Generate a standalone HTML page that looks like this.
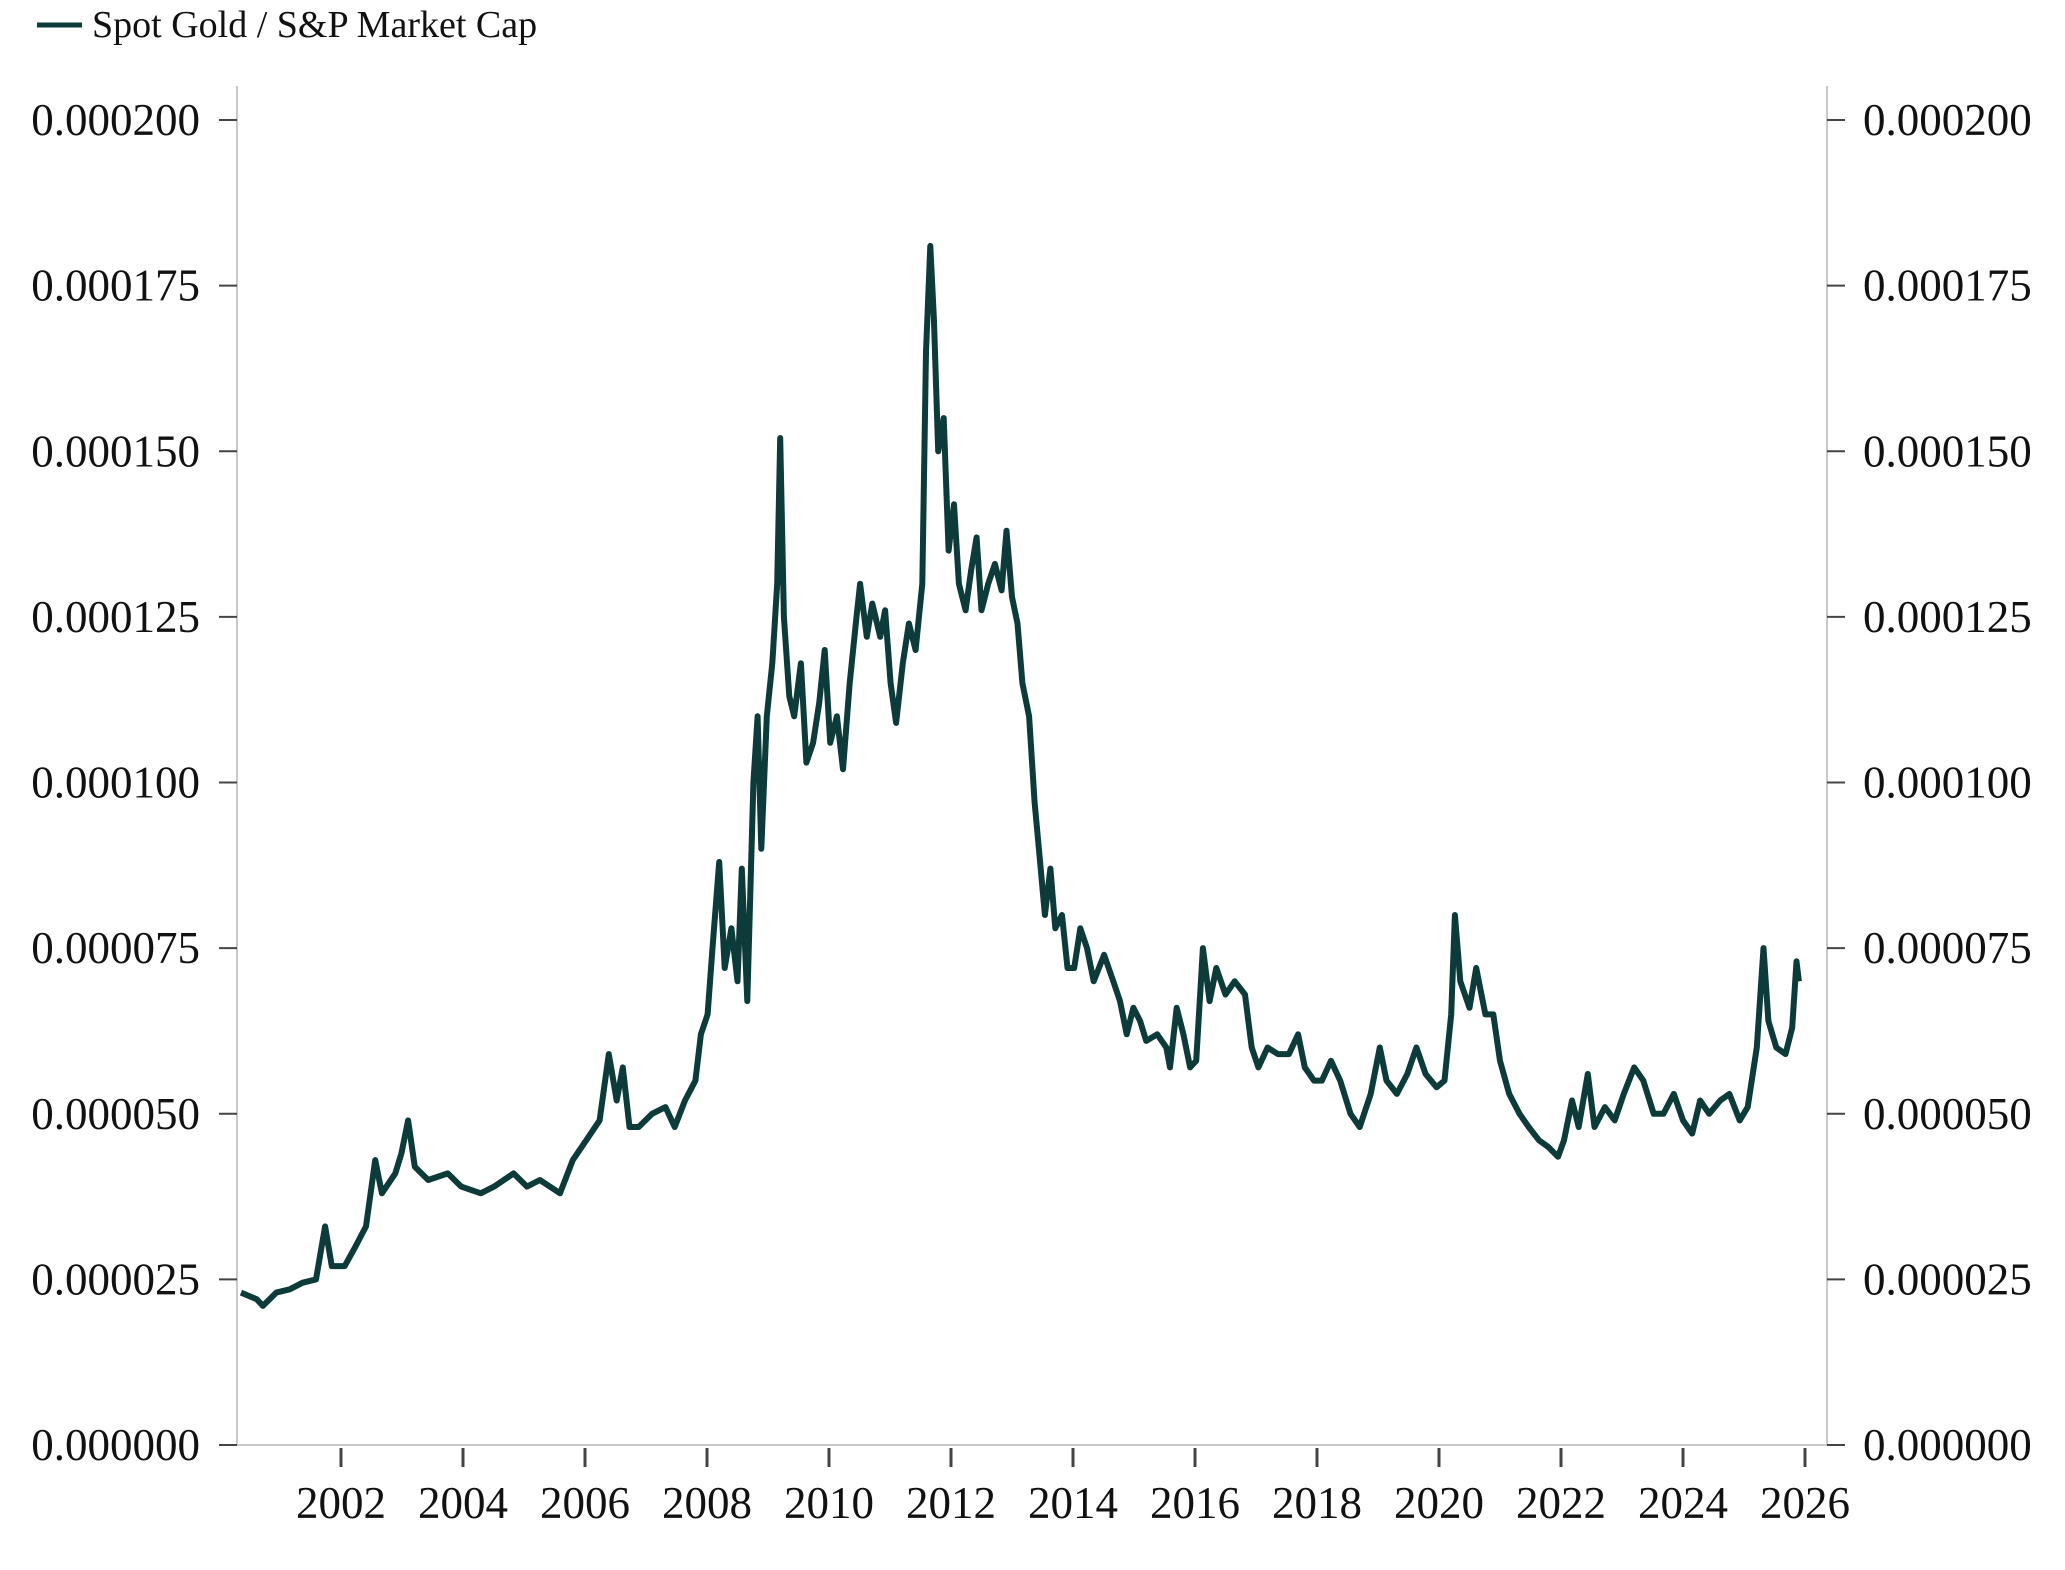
<!DOCTYPE html>
<html><head><meta charset="utf-8"><style>
html,body{margin:0;padding:0;background:#fff}
svg text{font-family:"Liberation Serif",serif;fill:#111}
</style></head><body>
<svg id="chart" width="2065" height="1565" viewBox="0 0 2065 1565" xmlns="http://www.w3.org/2000/svg">
<g>
<line x1="37" y1="25" x2="82" y2="25" stroke="#0d3b3a" stroke-width="5"/>
<text x="92" y="37" font-size="38">Spot Gold / S&amp;P Market Cap</text>
</g>
<g id="axes"></g>
<path id="series" fill="none" stroke="#0d3b3a" stroke-width="6" stroke-linejoin="round"/>
</svg>
<script>
const years=[2000.36,2000.62,2000.72,2000.94,2001.16,2001.37,2001.59,2001.74,2001.85,2002.06,2002.24,2002.41,2002.56,2002.67,2002.89,2002.99,2003.10,2003.21,2003.43,2003.75,2003.97,2004.29,2004.51,2004.83,2005.05,2005.26,2005.59,2005.80,2006.02,2006.24,2006.39,2006.52,2006.62,2006.73,2006.88,2007.10,2007.32,2007.47,2007.64,2007.81,2007.90,2008.01,2008.09,2008.20,2008.29,2008.40,2008.50,2008.57,2008.66,2008.76,2008.83,2008.89,2008.98,2009.07,2009.15,2009.20,2009.26,2009.35,2009.43,2009.54,2009.63,2009.74,2009.84,2009.93,2010.02,2010.13,2010.23,2010.34,2010.45,2010.51,2010.62,2010.71,2010.84,2010.92,2011.01,2011.10,2011.21,2011.31,2011.42,2011.53,2011.59,2011.66,2011.72,2011.79,2011.88,2011.96,2012.05,2012.13,2012.24,2012.33,2012.42,2012.50,2012.61,2012.72,2012.83,2012.91,2013.00,2013.09,2013.17,2013.28,2013.37,2013.45,2013.54,2013.63,2013.71,2013.82,2013.91,2014.02,2014.12,2014.23,2014.34,2014.51,2014.66,2014.77,2014.88,2014.99,2015.10,2015.20,2015.38,2015.53,2015.59,2015.70,2015.81,2015.92,2016.02,2016.13,2016.24,2016.35,2016.50,2016.65,2016.82,2016.93,2017.04,2017.19,2017.36,2017.54,2017.69,2017.80,2017.95,2018.08,2018.23,2018.38,2018.55,2018.70,2018.88,2019.03,2019.14,2019.31,2019.48,2019.63,2019.78,2019.96,2020.09,2020.20,2020.26,2020.35,2020.50,2020.61,2020.76,2020.89,2021.00,2021.15,2021.32,2021.47,2021.64,2021.79,2021.95,2022.05,2022.18,2022.29,2022.44,2022.55,2022.72,2022.88,2023.03,2023.20,2023.35,2023.52,2023.68,2023.85,2024.00,2024.15,2024.28,2024.43,2024.61,2024.76,2024.93,2025.06,2025.21,2025.32,2025.40,2025.53,2025.68,2025.79,2025.86,2025.90];
const ratioMicro=[23,22,21,23,23.5,24.5,25,33,27,27,30,33,43,38,41,44,49,42,40,41,39,38,39,41,39,40,38,43,46,49,59,52,57,48,48,50,51,48,52,55,62,65,75,88,72,78,70,87,67,100,110,90,110,118,130,152,125,113,110,118,103,106,112,120,106,110,102,115,125,130,122,127,122,126,115,109,118,124,120,130,165,181,170,150,155,135,142,130,126,132,137,126,130,133,129,138,128,124,115,110,97,89,80,87,78,80,72,72,78,75,70,74,70,67,62,66,64,61,62,60,57,66,62,57,58,75,67,72,68,70,68,60,57,60,59,59,62,57,55,55,58,55,50,48,53,60,55,53,56,60,56,54,55,65,80,70,66,72,65,65,58,53,50,48,46,45,43.5,46,52,48,56,48,51,49,53,57,55,50,50,53,49,47,52,50,52,53,49,51,60,75,64,60,59,63,73,70];
const yTicks=[0,25,50,75,100,125,150,175,200];
const yTickLabels=["0.000000","0.000025","0.000050","0.000075","0.000100","0.000125","0.000150","0.000175","0.000200"];
const xTicks=[2002,2004,2006,2008,2010,2012,2014,2016,2018,2020,2022,2024,2026];

const L=237,R=1827,B=1445,T=86;
const xs=y=>341+(y-2002)*61.0;
const ys=v=>B-v*(B-120)/200;
const NS='http://www.w3.org/2000/svg';
const ax=document.getElementById('axes');
function mk(tag,attrs,parent){const e=document.createElementNS(NS,tag);for(const k in attrs)e.setAttribute(k,attrs[k]);(parent||ax).appendChild(e);return e;}
let e;
e=mk('line',{x1:L,y1:T,x2:L,y2:B,stroke:'#c8c8c8','stroke-width':2});


e=mk('line',{x1:R,y1:T,x2:R,y2:B,stroke:'#c8c8c8','stroke-width':2});


e=mk('line',{x1:L,y1:B,x2:R,y2:B,stroke:'#c8c8c8','stroke-width':2});


yTicks.forEach((v,i)=>{
  const y=ys(v);
  e=mk('line',{x1:L-18,y1:y,x2:L,y2:y,stroke:'#444','stroke-width':2});
  
  
  e=mk('line',{x1:R,y1:y,x2:R+18,y2:y,stroke:'#444','stroke-width':2});
  
  
  e=mk('text',{x:200,y:y+15,'text-anchor':'end','font-size':45});
  e.textContent=yTickLabels[i];
  
  
  e=mk('text',{x:R+36,y:y+15,'text-anchor':'start','font-size':45});
  e.textContent=yTickLabels[i];
  
  
});
xTicks.forEach(yr=>{
  const x=xs(yr);
  e=mk('line',{x1:x,y1:B+3,x2:x,y2:B+22,stroke:'#444','stroke-width':3});
  
  
  e=mk('text',{x:x,y:1518,'text-anchor':'middle','font-size':45});
  e.textContent=String(yr);
  
  
});
let d='';
years.forEach((yr,i)=>{d+=(i?'L':'M')+xs(yr).toFixed(1)+','+ys(ratioMicro[i]).toFixed(1);});
document.getElementById('series').setAttribute('d',d);
</script>
</body></html>
